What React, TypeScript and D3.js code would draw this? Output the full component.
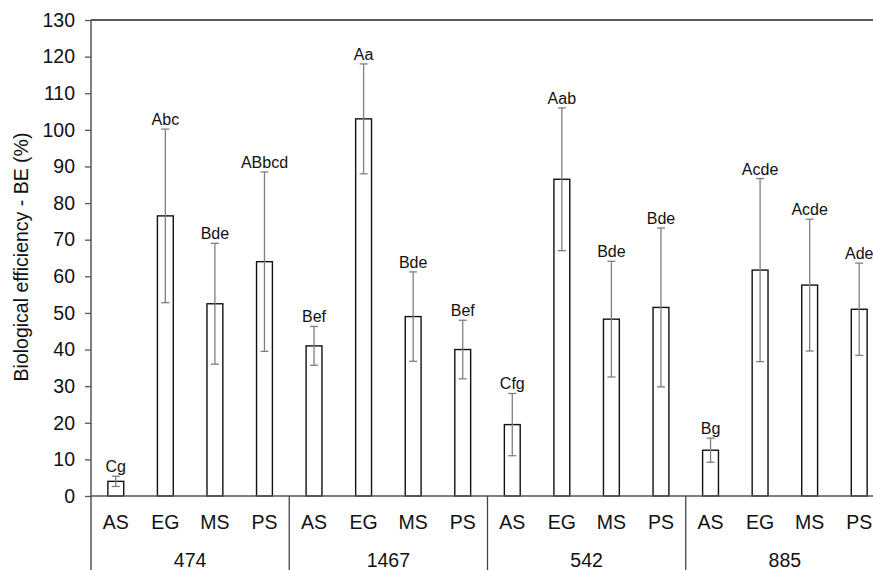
import React, { useRef, useEffect } from 'react';
import * as d3 from 'd3';

// strains (groups) and substrates (bars within a group)
const groups = ['474', '1467', '542', '885'];
const substrates = ['AS', 'EG', 'MS', 'PS'];

// mean BE (%) per group, in substrate order
const means474 = [4, 76.5, 52.5, 64];
const means1467 = [41, 103, 49, 40];
const means542 = [19.5, 86.5, 48.3, 51.5];
const means885 = [12.5, 61.7, 57.6, 51];

// +/- error per bar
const err474 = [1.4, 23.7, 16.5, 24.5];
const err1467 = [5.3, 15, 12.2, 8];
const err542 = [8.5, 19.5, 15.8, 21.7];
const err885 = [3.3, 25, 18, 12.6];

// significance letters
const letters474 = ['Cg', 'Abc', 'Bde', 'ABbcd'];
const letters1467 = ['Bef', 'Aa', 'Bde', 'Bef'];
const letters542 = ['Cfg', 'Aab', 'Bde', 'Bde'];
const letters885 = ['Bg', 'Acde', 'Acde', 'Ade'];

const yTicks = [0, 10, 20, 30, 40, 50, 60, 70, 80, 90, 100, 110, 120, 130];

const App = () => {
  const svgRef = useRef(null);

  useEffect(() => {
    const means = [means474, means1467, means542, means885];
    const errs = [err474, err1467, err542, err885];
    const lets = [letters474, letters1467, letters542, letters885];

    const data = [];
    groups.forEach((g, gi) => {
      substrates.forEach((s, si) => {
        data.push({
          key: `${g}-${s}`,
          group: g,
          substrate: s,
          value: means[gi][si],
          err: errs[gi][si],
          letter: lets[gi][si],
        });
      });
    });

    const svg = d3.select(svgRef.current);
    svg.selectAll('*').remove();

    const font = '"Liberation Sans", Arial, sans-serif';
    const left = 91;
    const right = 884;
    const top = 20;
    const bottom = 496;

    const x = d3.scaleBand()
      .domain(data.map(d => d.key))
      .range([left, right])
      .paddingInner(0)
      .paddingOuter(0);

    const xGroup = d3.scaleBand()
      .domain(groups)
      .range([left, right]);

    const y = d3.scaleLinear()
      .domain([0, 130])
      .range([bottom, top]);

    const barW = x.bandwidth() * 0.32;

    // top frame line
    svg.append('line')
      .attr('x1', left).attr('x2', right)
      .attr('y1', y(130)).attr('y2', y(130))
      .attr('stroke', '#222').attr('stroke-width', 1.5);

    // bars
    svg.selectAll('.bar')
      .data(data)
      .enter().append('rect')
      .attr('class', 'bar')
      .attr('x', d => x(d.key) + (x.bandwidth() - barW) / 2)
      .attr('y', d => y(d.value))
      .attr('width', barW)
      .attr('height', d => y(0) - y(d.value))
      .attr('fill', '#fff')
      .attr('stroke', '#111')
      .attr('stroke-width', 1.4);

    // error bars
    const eb = svg.selectAll('.err')
      .data(data)
      .enter().append('g')
      .attr('class', 'err')
      .attr('transform', d => `translate(${x(d.key) + x.bandwidth() / 2},0)`);
    eb.append('line')
      .attr('y1', d => y(d.value - d.err))
      .attr('y2', d => y(d.value + d.err))
      .attr('stroke', '#7f7f7f').attr('stroke-width', 1.3);
    eb.append('line')
      .attr('x1', -4).attr('x2', 4)
      .attr('y1', d => y(d.value + d.err)).attr('y2', d => y(d.value + d.err))
      .attr('stroke', '#7f7f7f').attr('stroke-width', 1.3);
    eb.append('line')
      .attr('x1', -4).attr('x2', 4)
      .attr('y1', d => y(d.value - d.err)).attr('y2', d => y(d.value - d.err))
      .attr('stroke', '#7f7f7f').attr('stroke-width', 1.3);
    eb.append('text')
      .attr('y', d => y(d.value + d.err) - 4)
      .attr('text-anchor', 'middle')
      .attr('font-family', font)
      .attr('font-size', 16)
      .attr('fill', '#111')
      .text(d => d.letter);

    // y axis
    const yAxis = svg.append('g')
      .attr('transform', `translate(${left},0)`)
      .call(d3.axisLeft(y).tickValues(yTicks).tickSize(6).tickSizeOuter(0));
    yAxis.select('.domain').remove();
    yAxis.selectAll('line').attr('stroke', '#555').attr('stroke-width', 1.3);
    yAxis.selectAll('text')
      .attr('font-family', font)
      .attr('font-size', 19.5)
      .attr('fill', '#111')
      .attr('x', -16);

    svg.append('line')
      .attr('x1', left).attr('x2', left)
      .attr('y1', top).attr('y2', 570)
      .attr('stroke', '#555').attr('stroke-width', 1.5);

    // x baseline
    svg.append('line')
      .attr('x1', left).attr('x2', right)
      .attr('y1', y(0)).attr('y2', y(0))
      .attr('stroke', '#555').attr('stroke-width', 1.5);

    // group separators
    svg.selectAll('.sep')
      .data(groups.slice(1))
      .enter().append('line')
      .attr('class', 'sep')
      .attr('x1', d => xGroup(d)).attr('x2', d => xGroup(d))
      .attr('y1', y(0)).attr('y2', 570)
      .attr('stroke', '#444').attr('stroke-width', 1.3);

    // substrate labels
    svg.selectAll('.cat')
      .data(data)
      .enter().append('text')
      .attr('class', 'cat')
      .attr('x', d => x(d.key) + x.bandwidth() / 2)
      .attr('y', 529)
      .attr('text-anchor', 'middle')
      .attr('font-family', font)
      .attr('font-size', 19.5)
      .attr('fill', '#111')
      .text(d => d.substrate);

    // group labels
    svg.selectAll('.grp')
      .data(groups)
      .enter().append('text')
      .attr('class', 'grp')
      .attr('x', d => xGroup(d) + xGroup.bandwidth() / 2)
      .attr('y', 567)
      .attr('text-anchor', 'middle')
      .attr('font-family', font)
      .attr('font-size', 19.5)
      .attr('fill', '#111')
      .text(d => d);

    // y label
    svg.append('text')
      .attr('transform', `translate(28,257) rotate(-90)`)
      .attr('text-anchor', 'middle')
      .attr('font-family', font)
      .attr('font-size', 19.5)
      .attr('fill', '#111')
      .text('Biological efficiency - BE (%)');
  }, []);

  return (
    <svg ref={svgRef} width="873" height="570"
      style={{ position: 'absolute', left: 0, top: 0, background: '#fff' }} />
  );
};

export default App;
